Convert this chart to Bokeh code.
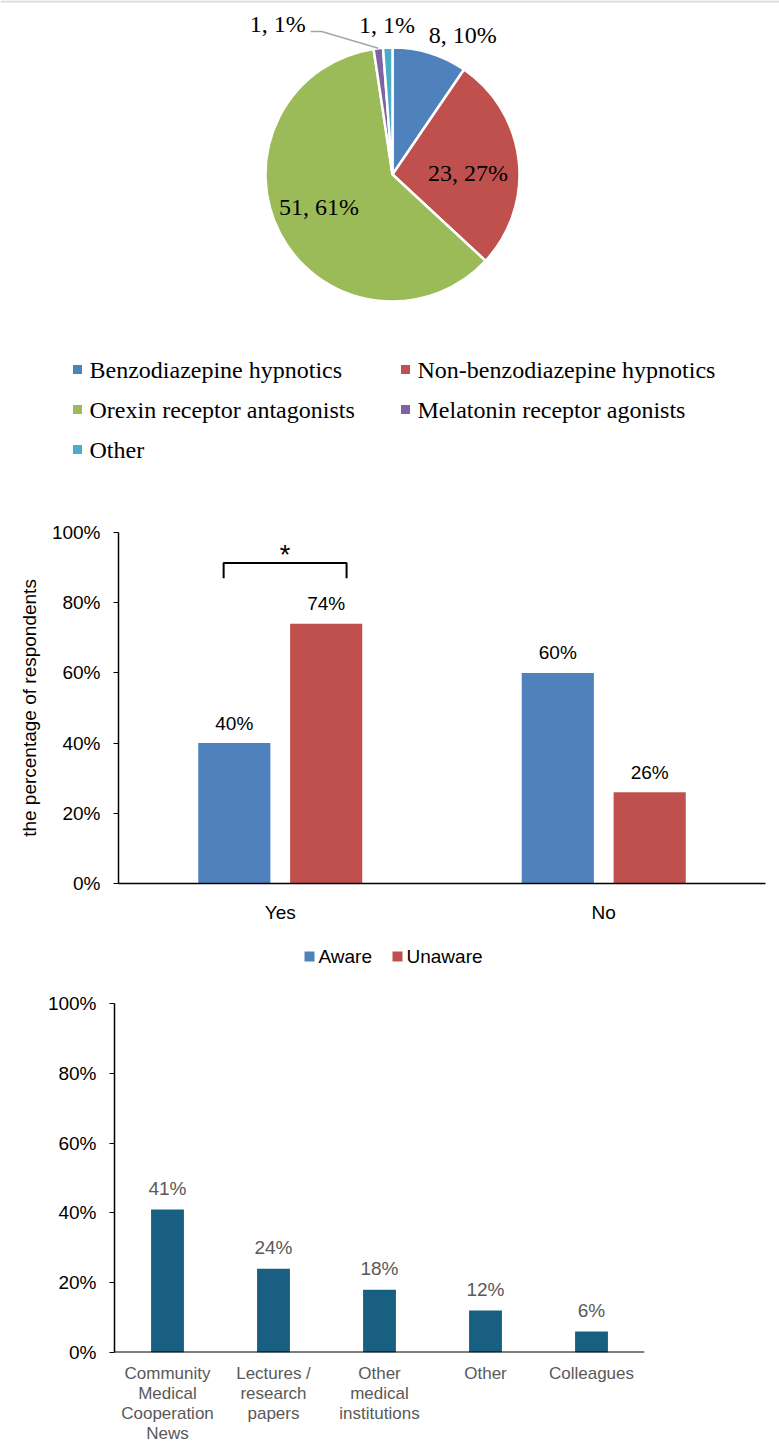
import math
from bokeh.plotting import figure
from bokeh.models import (ColumnDataSource, Range1d, FactorRange, FixedTicker,
                          PrintfTickFormatter, Span)
from bokeh.layouts import column
from bokeh.embed import file_html
from bokeh.resources import INLINE
from bokeh.core.properties import value
from bokeh.transform import dodge

# ---------------- data ----------------
drug_classes = ["Benzodiazepine hypnotics", "Non-benzodiazepine hypnotics",
                "Orexin receptor antagonists", "Melatonin receptor agonists", "Other"]
drug_counts = [8, 23, 51, 1, 1]
drug_pcts = [10, 27, 61, 1, 1]

awareness_groups = ["Yes", "No"]
series_names = ["Aware", "Unaware"]
aware_pct = [40, 60]
unaware_pct = [74, 26]

source_labels = ["Community\nMedical\nCooperation\nNews", "Lectures /\nresearch\npapers",
                 "Other\nmedical\ninstitutions", "Other", "Colleagues"]
source_pct = [41, 24, 18, 12, 6]

pct_ticks = [0, 20, 40, 60, 80, 100]

# ---------------- styles ----------------
W = 779
SERIF = "Liberation Serif"
SANS = "Liberation Sans"
pie_colors = ["#4F81BD", "#C0504D", "#9BBB59", "#8064A2", "#4BACC6"]
series_colors = ["#4F81BD", "#C0504D"]
bar3_color = "#185F82"


def blank_fig(h, **kw):
    opts = dict(width=W, height=h, x_range=Range1d(0, W), y_range=Range1d(0, h),
                toolbar_location=None, output_backend="svg", min_border=0,
                x_axis_location=None, y_axis_location=None, frame_align=False)
    opts.update(kw)
    f = figure(**opts)
    f.grid.visible = False
    f.outline_line_color = None
    return f


# ================= Panel 1 : pie =================
H1 = 475
p1 = blank_fig(H1)
p1.add_layout(Span(location=H1 - 1, dimension="width", line_color="#dcdcdc", line_width=2))


def Y(yp, h=H1):  # page-pixel y (from top of figure) -> data y
    return h - yp


cx, cy, R = 392, Y(174), 127
total = sum(drug_counts)
starts, ends, cum = [], [], 0
for c in drug_counts:
    s = math.pi / 2 - 2 * math.pi * cum / total
    cum += c
    e = math.pi / 2 - 2 * math.pi * cum / total
    starts.append(s)
    ends.append(e)
mids = [(s + e) / 2 for s, e in zip(starts, ends)]

p1.wedge(x=cx, y=cy, radius=R, start_angle=starts, end_angle=ends, direction="clock",
         fill_color=pie_colors, line_color="white", line_width=2.5)

# label placement (style): radial distance and pixel nudges
lab_r = [150, 76, 81, 150, 150]
lab_dx = [26, 0, -2, -98, 0]
lab_dy = [4, 7, -5, -1, 0]   # page pixels, positive = down
lx = [cx + r * math.cos(m) + dx for r, m, dx in zip(lab_r, mids, lab_dx)]
ly = [cy + r * math.sin(m) - dy for r, m, dy in zip(lab_r, mids, lab_dy)]
pie_text = [f"{c}, {p}%" for c, p in zip(drug_counts, drug_pcts)]
p1.text(x=lx, y=ly, text=pie_text, text_align="center", text_baseline="middle",
        text_font=value(SERIF), text_font_size="24px", text_color="black")

# leader line for the small slice with the displaced label
k = 3
rim_x, rim_y = cx + R * math.cos(mids[k]), cy + R * math.sin(mids[k])
p1.line(x=[rim_x, lx[k] + 44, lx[k] + 33], y=[rim_y, ly[k] - 7, ly[k] - 7],
        line_color="#a6a6a6", line_width=1.5)

# legend (two columns)
col_x = [77, 405]
row_y = [369, 409, 449]
mk_x = [col_x[i % 2] for i in range(len(drug_classes))]
mk_y = [Y(row_y[i // 2]) for i in range(len(drug_classes))]
p1.scatter(x=mk_x, y=mk_y, marker="square", size=9, fill_color=pie_colors, line_color=None)
p1.text(x=[x + 12 for x in mk_x], y=mk_y, text=drug_classes, text_align="left",
        text_baseline="middle", text_font=value(SERIF), text_font_size="24px",
        text_color="black")

# ================= Panel 2 : grouped bars =================
H2 = 450
p2 = figure(width=W, height=H2, x_range=FactorRange(*awareness_groups),
            y_range=Range1d(0, 100), toolbar_location=None, output_backend="svg",
            min_border_left=118, min_border_right=14, min_border_top=57, min_border_bottom=35,
            frame_align=False)
p2.grid.visible = False
p2.outline_line_color = None
src2 = ColumnDataSource(dict(group=awareness_groups, aware=aware_pct, unaware=unaware_pct,
                             aware_lbl=[f"{v}%" for v in aware_pct],
                             unaware_lbl=[f"{v}%" for v in unaware_pct]))
off = 0.142
bw = 0.223
p2.vbar(x=dodge("group", -off, range=p2.x_range), top="aware", width=bw,
        source=src2, fill_color=series_colors[0], line_color=None)
p2.vbar(x=dodge("group", off, range=p2.x_range), top="unaware", width=bw,
        source=src2, fill_color=series_colors[1], line_color=None)
for col, lbl, o in (("aware", "aware_lbl", -off), ("unaware", "unaware_lbl", off)):
    p2.text(x=dodge("group", o, range=p2.x_range), y=col, text=lbl, source=src2,
            text_align="center", text_baseline="middle", y_offset=-20,
            text_font=value(SANS), text_font_size="19px", text_color="black")

# significance bracket over the "Yes" group
gx = awareness_groups.index("Yes") + 0.5
p2.line(x=[gx - 0.175, gx - 0.175, gx + 0.205, gx + 0.205], y=[87, 91.3, 91.3, 87],
        line_color="black", line_width=2)
p2.text(x=[gx + 0.015], y=[93.6], text=["*"], text_align="center",
        text_baseline="alphabetic", text_font=value(SANS), text_font_size="27px",
        text_color="black")

p2.yaxis.ticker = FixedTicker(ticks=pct_ticks)
p2.yaxis.formatter = PrintfTickFormatter(format="%d%%")
p2.yaxis.minor_tick_line_color = None
p2.yaxis.major_tick_in = 0
p2.yaxis.major_tick_out = 5
p2.yaxis.major_tick_line_color = "black"
p2.yaxis.major_label_standoff = 13
p2.yaxis.axis_label = "the percentage of respondents"
p2.yaxis.axis_label_text_font_style = "normal"
p2.yaxis.axis_label_text_font = SANS
p2.yaxis.axis_label_text_font_size = "19px"
p2.yaxis.axis_label_text_color = "black"
p2.yaxis.axis_label_standoff = 9
p2.yaxis.axis_line_width = 1.5
p2.xaxis.major_tick_line_color = None
p2.xaxis.axis_line_width = 1.5
p2.xaxis.major_label_standoff = 12
for ax in (p2.xaxis, p2.yaxis):
    ax.major_label_text_font = SANS
    ax.major_label_text_font_size = "19px"
    ax.major_label_text_color = "black"
    ax.axis_line_color = "black"

# legend strip for panel 2
HL = 50
pl = blank_fig(HL)
leg_x = [309, 397]
pl.scatter(x=leg_x, y=[Y(31, HL)] * 2, marker="square", size=10,
           fill_color=series_colors, line_color=None)
pl.text(x=[x + 9 for x in leg_x], y=[Y(31, HL)] * 2, text=series_names, text_align="left",
        text_baseline="middle", text_font=value(SANS), text_font_size="19px",
        text_color="black")

# ================= Panel 3 : single bars =================
B3L, B3R = 114, 135
H3 = 387
p3 = figure(width=W, height=H3, x_range=FactorRange(*source_labels),
            y_range=Range1d(0, 100), toolbar_location=None, output_backend="svg",
            min_border_left=B3L, min_border_right=B3R, min_border_top=28, min_border_bottom=10,
            x_axis_location=None, frame_align=False)
p3.grid.visible = False
p3.outline_line_color = None
# baseline (x axis line)
p3.add_layout(Span(location=0, dimension="width", line_color="black", line_width=2))
src3 = ColumnDataSource(dict(cat=source_labels, pct=source_pct,
                             lbl=[f"{v}%" for v in source_pct]))
p3.vbar(x="cat", top="pct", width=0.31, source=src3, fill_color=bar3_color, line_color=None)
p3.text(x="cat", y="pct", text="lbl", source=src3, text_align="center",
        text_baseline="middle", y_offset=-21, text_font=value(SANS),
        text_font_size="19px", text_color="#595959")

p3.yaxis.ticker = FixedTicker(ticks=pct_ticks)
p3.yaxis.formatter = PrintfTickFormatter(format="%d%%")
p3.yaxis.minor_tick_line_color = None
p3.yaxis.major_tick_in = 0
p3.yaxis.major_tick_out = 5
p3.yaxis.major_label_standoff = 13
p3.yaxis.major_label_text_font = SANS
p3.yaxis.major_label_text_font_size = "19px"
p3.yaxis.major_label_text_color = "black"
p3.yaxis.axis_line_width = 1.5
p3.yaxis.axis_line_color = "black"
p3.yaxis.major_tick_line_color = "black"

# category names (multi-line) in a strip below, sharing the category scale
HS = 1441 - 975 - H3
ps = figure(width=W, height=HS, x_range=p3.x_range, y_range=Range1d(0, HS),
            toolbar_location=None, output_backend="svg", min_border=0,
            min_border_left=B3L, min_border_right=B3R,
            x_axis_location=None, y_axis_location=None, frame_align=False)
ps.grid.visible = False
ps.outline_line_color = None
line_cat, line_txt, line_idx = [], [], []
for lab in source_labels:
    for i, part in enumerate(lab.split("\n")):
        line_cat.append(lab)
        line_txt.append(part)
        line_idx.append(i)
LINE_H = 20.2
ps.text(x=line_cat, y=[HS - 1] * len(line_cat), text=line_txt,
        y_offset=[i * LINE_H for i in line_idx], text_align="center", text_baseline="top",
        text_font=value(SANS), text_font_size="17px", text_color="#595959")

page = column(p1, p2, pl, p3, ps, spacing=0)
open("out.html", "w").write(file_html(page, INLINE))
